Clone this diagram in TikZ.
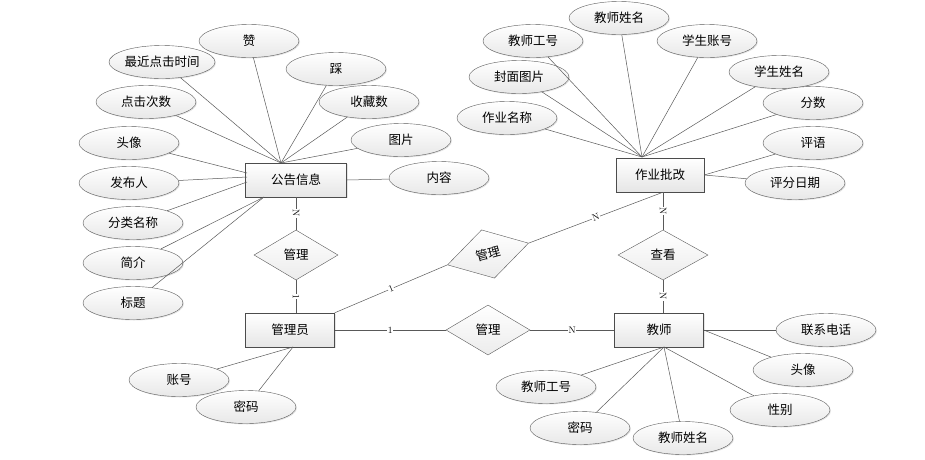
\documentclass[tikz,border=0pt]{standalone}
\usepackage{fontspec}
\newfontfamily\cjk{Noto Sans CJK SC}
\usepackage{tikz}
\usetikzlibrary{shapes.geometric,shadows}

\begin{document}
\begin{tikzpicture}[x=1pt,y=-1pt,
		attr/.style={ellipse,draw=black!65,top color=white,bottom color=gray!18,
			drop shadow={opacity=0.2,shadow xshift=1pt,shadow yshift=-1pt},
			minimum width=100pt,minimum height=33pt,inner sep=0pt,font=\cjk\fontsize{12.5}{14}\selectfont},
		ent/.style={rectangle,draw=black!70,top color=white,bottom color=gray!20,
			drop shadow={opacity=0.2,shadow xshift=1pt,shadow yshift=-1pt},
			minimum width=89pt,minimum height=34pt,inner sep=0pt,font=\cjk\fontsize{12.5}{14}\selectfont},
		rel/.style={diamond,draw=black!65,top color=white,bottom color=gray!15,
			minimum width=84pt,minimum height=50pt,inner sep=0pt,font=\cjk\fontsize{12.5}{14}\selectfont},
		conn/.style={draw=black!65,line width=0.5pt},
		lbl/.style={fill=white,inner sep=0.6pt,sloped,font=\fontsize{9.5}{10}\selectfont}]
	\useasboundingbox (0,0) rectangle (925,459);

	% entities
	\node[ent,minimum width=101pt] (gg) at (296,180) {公告信息};
	\node[ent] (gly) at (290,330) {管理员};
	\node[ent,minimum width=88pt] (zypg) at (660,175) {作业批改};
	\node[ent] (js) at (659,330) {教师};

	% relations
	\node[rel] (gl1) at (296,255) {管理};
	\node[rel,rotate=15] (gl2) at (488,254) {管理};
	\node[rel] (gl3) at (488,330) {管理};
	\node[rel,minimum width=90pt] (ck) at (663,255) {查看};

	% attributes of gg
	\node[attr] (zan) at (249,41) {赞};
	\node[attr] (zjdj) at (162,62) {最近点击时间};
	\node[attr] (cai) at (336,69) {踩};
	\node[attr] (djcs) at (146,102) {点击次数};
	\node[attr] (scs) at (369,102) {收藏数};
	\node[attr] (tx1) at (129,143) {头像};
	\node[attr] (tp) at (401,140) {图片};
	\node[attr] (nr) at (439,178) {内容};
	\node[attr] (fbr) at (129,183) {发布人};
	\node[attr] (flmc) at (133,223) {分类名称};
	\node[attr] (jj) at (133,263) {简介};
	\node[attr] (bt) at (133,303) {标题};

	\coordinate (ggtop) at (281,163);
	\coordinate (ggl1) at (247,173);
	\coordinate (ggl2) at (247,177);
	\coordinate (ggl3) at (247,182);
	\coordinate (ggbot) at (264,197);
	\foreach \n in {zan,zjdj,cai,djcs,scs,tp}
		\draw[conn] (\n) -- (ggtop);
	\draw[conn] (tx1) -- (ggl1);
	\draw[conn] (fbr) -- (ggl2);
	\draw[conn] (flmc) -- (ggl3);
	\draw[conn] (jj) -- (ggbot);
	\draw[conn] (bt) -- (ggbot);
	\draw[conn] (nr) -- (gg.east);

	% attributes of zypg
	\node[attr] (jsxm1) at (619,18) {教师姓名};
	\node[attr] (jsgh1) at (533,41) {教师工号};
	\node[attr] (xszh) at (707,41) {学生账号};
	\node[attr] (fmtp) at (519,77) {封面图片};
	\node[attr] (xsxm) at (779,72) {学生姓名};
	\node[attr] (zymc) at (507,118) {作业名称};
	\node[attr] (fs) at (813,103) {分数};
	\node[attr] (py) at (813,143) {评语};
	\node[attr] (pfrq) at (795,183) {评分日期};

	\coordinate (zytop) at (642,157);
	\foreach \n in {jsxm1,jsgh1,xszh,fmtp,xsxm,zymc,fs}
		\draw[conn] (\n) -- (zytop);
	\draw[conn] (py) -- (zypg.east);
	\draw[conn] (pfrq) -- (zypg.east);

	% attributes of gly
	\node[attr] (zh) at (179,380) {账号};
	\node[attr] (mm1) at (246,407) {密码};
	\coordinate (glybot) at (293,347);
	\draw[conn] (zh) -- (glybot);
	\draw[conn] (mm1) -- (glybot);

	% attributes of js
	\node[attr] (lxdh) at (826,330) {联系电话};
	\node[attr] (tx2) at (803,370) {头像};
	\node[attr] (xb) at (780,410) {性别};
	\node[attr] (jsgh2) at (546,387) {教师工号};
	\node[attr] (mm2) at (580,428) {密码};
	\node[attr] (jsxm2) at (683,438) {教师姓名};

	\coordinate (jsbot) at (664,347);
	\draw[conn] (lxdh) -- (js.east);
	\draw[conn] (tx2) -- (js.east);
	\foreach \n in {xb,jsgh2,mm2,jsxm2}
		\draw[conn] (\n) -- (jsbot);

	% relations and cardinalities
	\coordinate (zpb) at (zypg.south -| ck.north);
	\draw[conn] (gg.south) -- node[lbl] {N} (gl1.north);
	\draw[conn] (gl1.south) -- node[lbl] {1} (gl1.south |- gly.north);
	\draw[conn] (gly.north east) -- node[lbl] {1} (gl2.west);
	\draw[conn] (gl2.east) -- node[lbl] {N} (zpb);
	\draw[conn] (gly.east) -- node[lbl] {1} (gl3.west);
	\draw[conn] (gl3.east) -- node[lbl] {N} (js.west);
	\draw[conn] (zpb) -- node[lbl] {N} (ck.north);
	\draw[conn] (ck.south) -- node[lbl] {N} (ck.south |- js.north);
\end{tikzpicture}
\end{document}
